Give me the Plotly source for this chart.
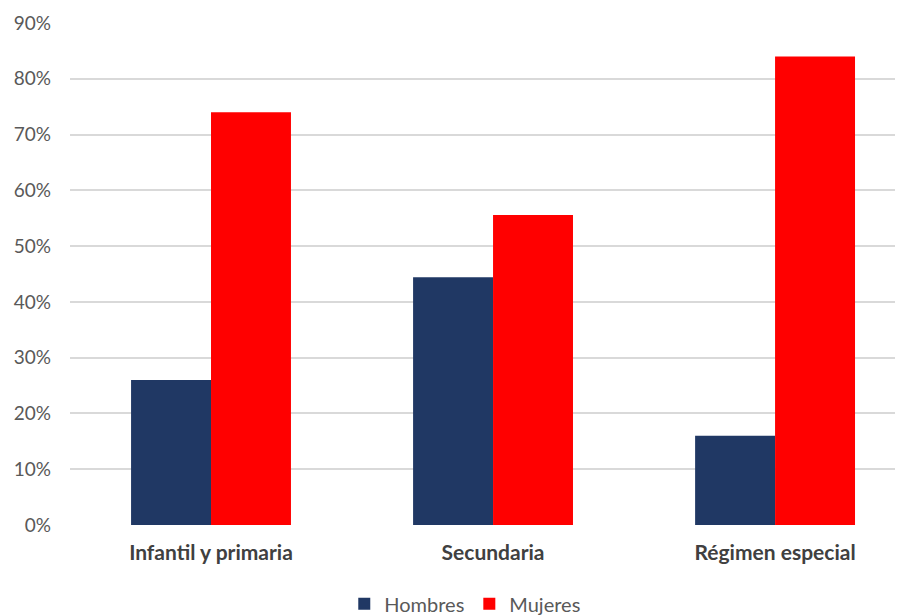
import plotly.graph_objects as go

categories = ["Infantil y primaria", "Secundaria", "Régimen especial"]
hombres = [0.26, 0.444, 0.16]
mujeres = [0.74, 0.556, 0.84]
tick_vals = [0, 0.1, 0.2, 0.3, 0.4, 0.5, 0.6, 0.7, 0.8, 0.9]
tick_text = ["0%", "10%", "20%", "30%", "40%", "50%", "60%", "70%", "80%", "90%"]

font_family = "Lato, 'Open Sans', sans-serif"

fig = go.Figure()
fig.add_trace(go.Bar(name="Hombres", x=[0, 1, 2], y=hombres, marker_color="#203864",
                     marker_line_width=0))
fig.add_trace(go.Bar(name="Mujeres", x=[0, 1, 2], y=mujeres, marker_color="#FF0000",
                     marker_line_width=0))

fig.update_layout(
    width=903, height=616,
    barmode="group", bargap=0.433, bargroupgap=0,
    plot_bgcolor="white", paper_bgcolor="white",
    margin=dict(l=62, r=0, t=15, b=99, autoexpand=False),
    font=dict(family=font_family, color="#595959", size=19),
    legend=dict(orientation="h", x=0.47, xanchor="center", y=-0.118, yanchor="top",
                font=dict(size=20, color="#595959"), itemwidth=30,
                traceorder="normal"),
    xaxis=dict(range=[-0.5, 2.482], tickvals=[0, 1, 2],
               ticktext=["<b>" + c + "</b>" for c in categories],
               tickfont=dict(size=21, color="#404040"),
               showgrid=False, zeroline=False, showline=False, ticks="",
               ticklabelstandoff=13),
    yaxis=dict(range=[0, 0.9], tickvals=tick_vals, ticktext=tick_text,
               tickfont=dict(size=19, color="#595959"),
               showgrid=True, gridcolor="#D9D9D9", gridwidth=1.5,
               zeroline=False, showline=False, ticks="", ticklabelstandoff=18),
)

fig.write_html("out.html")
